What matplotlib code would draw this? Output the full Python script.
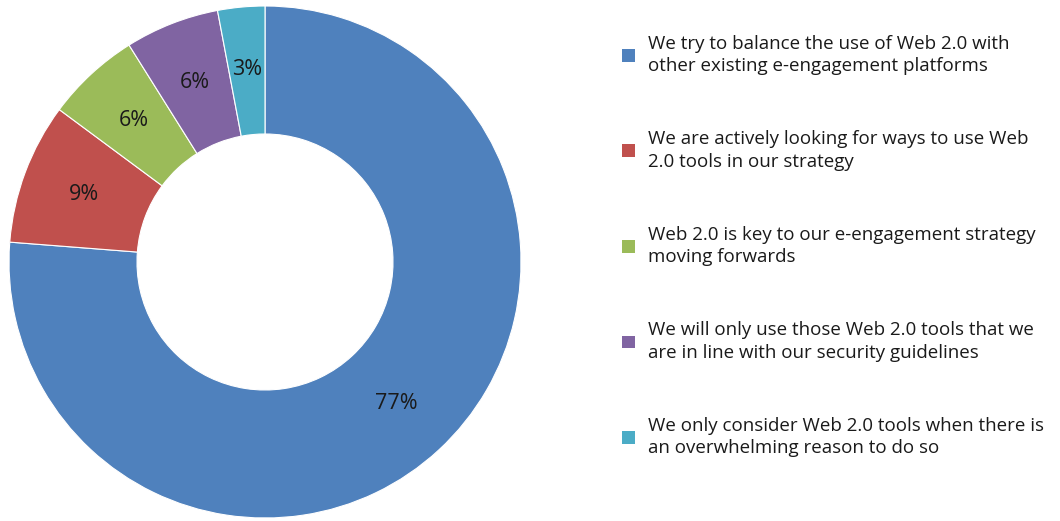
import matplotlib
matplotlib.use("Agg")
import matplotlib.pyplot as plt
from matplotlib.patches import Patch
import numpy as np

# Survey responses on Web 2.0 use in e-engagement strategy
categories = [
    "We try to balance the use of Web 2.0 with\nother existing e-engagement platforms",
    "We are actively looking for ways to use Web\n2.0 tools in our strategy",
    "Web 2.0 is key to our e-engagement strategy\nmoving forwards",
    "We will only use those Web 2.0 tools that we\nare in line with our security guidelines",
    "We only consider Web 2.0 tools when there is\nan overwhelming reason to do so",
]
shares = [77, 9, 6, 6, 3]
colors = ["#4F81BD", "#C0504D", "#9BBB59", "#8064A2", "#4BACC6"]

plt.rcParams["font.family"] = ["Open Sans", "DejaVu Sans"]
text_color = "#1a1a1a"

fig = plt.figure(figsize=(10.6, 5.21), dpi=100)
W, H = 1060, 521
cx, cy, r = 265, 262, 256
ax = fig.add_axes([(cx - r) / W, (H - cy - r) / H, 2 * r / W, 2 * r / H])

wedges, _ = ax.pie(
    shares, colors=colors, startangle=90, counterclock=False,
    radius=1.0, wedgeprops=dict(width=0.5, edgecolor="white", linewidth=0.8),
)
ax.set_xlim(-1, 1)
ax.set_ylim(-1, 1)
ax.set_aspect("equal")
ax.axis("off")

# Percentage labels at the middle of each ring segment
for w, v in zip(wedges, shares):
    mid = np.deg2rad((w.theta1 + w.theta2) / 2)
    ax.text(0.755 * np.cos(mid), 0.755 * np.sin(mid), f"{v}%",
            ha="center", va="center", fontsize=15.5, color=text_color)

handles = [Patch(facecolor=c, edgecolor="none") for c in colors]
leg = fig.legend(
    handles, categories, loc="upper left", bbox_to_anchor=(605 / W, 1 - 18 / H),
    frameon=False, fontsize=13.5, labelspacing=2.95, handlelength=0.68,
    handleheight=0.68, handletextpad=0.7, labelcolor=text_color,
)
for t in leg.get_texts():
    t.set_linespacing(1.3)

fig.savefig("out.png", dpi=100, facecolor="white")
